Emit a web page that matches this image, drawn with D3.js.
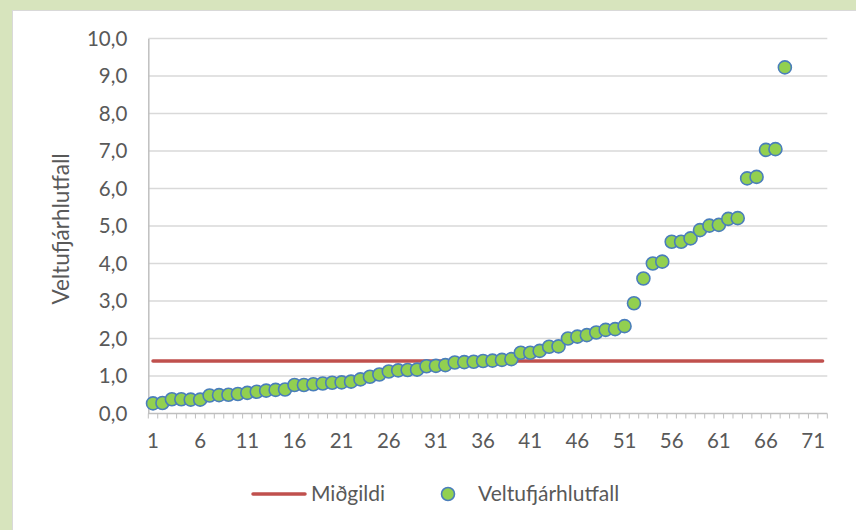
<!DOCTYPE html>
<html>
<head>
<meta charset="utf-8">
<script src="https://cdn.jsdelivr.net/npm/d3@7"></script>
<style>
  body { margin: 0; background: #d7e4bd; }
  svg { display: block; }
  text { font-family: Lato, "Liberation Sans", sans-serif; fill: #595959; }
</style>
</head>
<body>
<svg id="chart"></svg>
<script>
const categoryCount = 72;
const xTickLabels = [1, 6, 11, 16, 21, 26, 31, 36, 41, 46, 51, 56, 61, 66, 71];
const yTicks = [0, 1, 2, 3, 4, 5, 6, 7, 8, 9, 10];

// Veltufjárhlutfall, sorted, one per company
const ratios = [0.27, 0.28, 0.38, 0.38, 0.37, 0.37, 0.48, 0.49, 0.50, 0.52,
  0.55, 0.58, 0.61, 0.63, 0.64, 0.76, 0.76, 0.78, 0.80, 0.82,
  0.83, 0.85, 0.91, 0.98, 1.04, 1.12, 1.15, 1.16, 1.17, 1.26,
  1.27, 1.29, 1.36, 1.37, 1.38, 1.40, 1.41, 1.43, 1.45, 1.62,
  1.62, 1.67, 1.78, 1.79, 2.00, 2.05, 2.09, 2.16, 2.23, 2.25,
  2.33, 2.94, 3.60, 4.00, 4.05, 4.58, 4.58, 4.67, 4.89, 5.01,
  5.03, 5.19, 5.21, 6.27, 6.31, 7.03, 7.05, 9.23];
const medianValue = 1.4;

const width = 856, height = 530;
const margins = {"left": 148.3, "right": 28.7, "top": 38.5, "bottom": 116.5};

const svg = d3.select("#chart")
  .attr("width", width)
  .attr("height", height);

// white chart area
svg.append("rect")
  .attr("x", 12.5).attr("y", 10.5)
  .attr("width", width - 12).attr("height", height - 10)
  .attr("fill", "#fff")
  .attr("stroke", "#d9d9d9");

const categories = d3.range(1, categoryCount + 1);

const xScale = d3.scaleBand()
  .domain(categories)
  .range([margins.left, width - margins.right]);
const xc = (d) => xScale(d) + xScale.bandwidth() / 2;

const yScale = d3.scaleLinear()
  .domain([0, 10])
  .range([height - margins.bottom, margins.top]);

const fmt = (d) => d3.format(".1f")(d).replace(".", ",");

// gridlines
svg.append("g")
  .selectAll("line")
  .data(yTicks.filter((d) => d > 0))
  .enter()
  .append("line")
  .attr("x1", margins.left)
  .attr("x2", width - margins.right)
  .attr("y1", (d) => yScale(d))
  .attr("y2", (d) => yScale(d))
  .attr("stroke", "#d9d9d9")
  .attr("stroke-width", 1.5);

// y axis
const yAxis = d3.axisLeft(yScale)
  .tickValues(yTicks)
  .tickSize(0)
  .tickPadding(21)
  .tickFormat(fmt);

const yg = svg.append("g")
  .attr("transform", "translate(" + margins.left + ",0)")
  .call(yAxis);
yg.select(".domain").attr("stroke", "#bfbfbf").attr("stroke-width", 1.5);
yg.selectAll("text").style("font-size", "20.5px").style("fill", "#595959");

// x axis with minor ticks between categories
const xAxisY = height - margins.bottom;
svg.append("line")
  .attr("x1", margins.left).attr("x2", width - margins.right)
  .attr("y1", xAxisY).attr("y2", xAxisY)
  .attr("stroke", "#bfbfbf")
  .attr("stroke-width", 1.5);

svg.append("g")
  .selectAll("line")
  .data(categories.concat([categoryCount + 1]))
  .enter()
  .append("line")
  .attr("x1", (d) => margins.left + (d - 1) * xScale.step())
  .attr("x2", (d) => margins.left + (d - 1) * xScale.step())
  .attr("y1", xAxisY)
  .attr("y2", xAxisY + 5)
  .attr("stroke", "#bfbfbf")
  .attr("stroke-width", 1);

svg.append("g")
  .selectAll("text")
  .data(xTickLabels)
  .enter()
  .append("text")
  .attr("x", (d) => xc(d))
  .attr("y", xAxisY + 34)
  .attr("text-anchor", "middle")
  .style("font-size", "20.5px")
  .text((d) => d);

// y axis title
svg.append("text")
  .attr("transform", "translate(69," + (yScale(5) + 3) + ") rotate(-90)")
  .attr("text-anchor", "middle")
  .style("font-size", "22.5px")
  .text("Veltufjárhlutfall");

// median line
const line = d3.line()
  .x((d) => xc(d))
  .y(() => yScale(medianValue));

svg.append("path")
  .datum([1, categoryCount])
  .attr("d", line)
  .attr("fill", "none")
  .attr("stroke", "#c0504d")
  .attr("stroke-width", 3.5)
  .attr("stroke-linecap", "round");

// points
svg.append("g")
  .selectAll("circle")
  .data(ratios)
  .enter()
  .append("circle")
  .attr("cx", (d, i) => xc(categories[i]))
  .attr("cy", (d) => yScale(d))
  .attr("r", 6.5)
  .attr("fill", "#92d050")
  .attr("stroke", "#4a7ebb")
  .attr("stroke-width", 1.6);

// legend
const legend = svg.append("g")
  .attr("transform", "translate(0,494)");
legend.append("line")
  .attr("x1", 253).attr("x2", 305)
  .attr("y1", 0).attr("y2", 0)
  .attr("stroke", "#c0504d")
  .attr("stroke-width", 3.5)
  .attr("stroke-linecap", "round");
legend.append("text")
  .attr("x", 311).attr("y", 7)
  .style("font-size", "21px")
  .text("Miðgildi");
legend.append("circle")
  .attr("cx", 448).attr("cy", 0)
  .attr("r", 6.5)
  .attr("fill", "#92d050")
  .attr("stroke", "#4a7ebb")
  .attr("stroke-width", 1.6);
legend.append("text")
  .attr("x", 478).attr("y", 7)
  .style("font-size", "21px")
  .text("Veltufjárhlutfall");
</script>
</body>
</html>
